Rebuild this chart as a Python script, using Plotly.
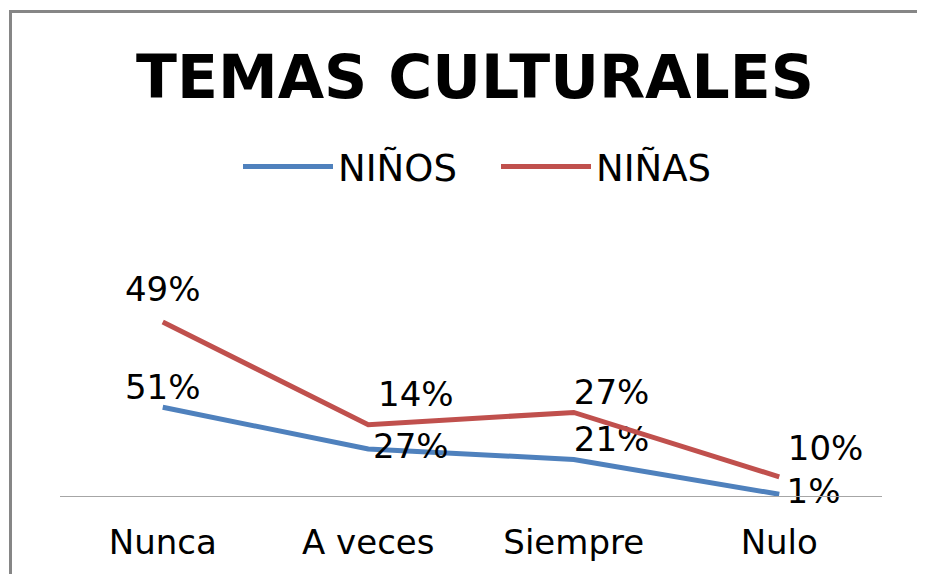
import plotly.graph_objects as go

categories = ["Nunca", "A veces", "Siempre", "Nulo"]
ninos = [51, 27, 21, 1]
ninas = [49, 14, 27, 10]
series_names = ["NIÑOS", "NIÑAS"]
colors = ["#4F81BD", "#C0504D"]

FONT = "DejaVu Sans"
OFF = 8  # page body margin offset

W, H = 925, 574
plot_l, plot_r = 60 - OFF, 882 - OFF
plot_t, plot_b = 230 - OFF, 496 - OFF
pw = plot_r - plot_l
ph = plot_b - plot_t
CLEAR = "rgba(0,0,0,0)"

fig = go.Figure()
fig.add_trace(go.Scatter(
    x=categories, y=ninos, name=series_names[0], stackgroup="s", fill="none",
    mode="lines+markers+text", line=dict(color=colors[0], width=5),
    marker=dict(size=[0, 6, 0, 10], opacity=0, color=CLEAR, line=dict(width=0)),
    text=[f"{v}%" for v in ninos], cliponaxis=False,
    textposition=["top center", "middle right", "top right", "middle right"],
    textfont=dict(family=FONT, size=34, color="#000000"),
))
fig.add_trace(go.Scatter(
    x=categories, y=ninas, name=series_names[1], stackgroup="s", fill="none",
    mode="lines+markers+text", line=dict(color=colors[1], width=5),
    marker=dict(size=[18, 14, 0, 12], opacity=0, color=CLEAR, line=dict(width=0)),
    text=[f"{v}%" for v in ninas], cliponaxis=False,
    textposition=["top center", "top right", "top right", "top right"],
    textfont=dict(family=FONT, size=34, color="#000000"),
))

fig.update_layout(
    width=W, height=H,
    paper_bgcolor="white", plot_bgcolor="white",
    margin=dict(l=plot_l, r=W - plot_r, t=plot_t, b=H - plot_b),
    title=dict(text="<b>TEMAS CULTURALES</b>", font=dict(family=FONT, size=60, color="#000000"),
               x=(475 - OFF) / W, xanchor="center", y=1 - (77 - OFF) / H, yanchor="middle",
               yref="container"),
    legend=dict(orientation="h", x=(238 - OFF) / W, xanchor="left",
                y=1 - (167 - OFF) / H, yanchor="middle",
                xref="container", yref="container",
                font=dict(family=FONT, size=37, color="#000000"),
                itemwidth=90, entrywidth=153, entrywidthmode="pixels"),
    showlegend=True,
    xaxis=dict(showline=True, linecolor="#A6A6A6", linewidth=1, showgrid=False, ticks="",
               tickfont=dict(family=FONT, size=34, color="#000000"), ticklabelstandoff=16,
               range=[-0.5, 3.5], zeroline=False),
    yaxis=dict(range=[0, ph / 1.74], visible=False, showgrid=False, zeroline=False),
    shapes=[dict(type="rect", xref="paper", yref="paper",
                 x0=(10.5 - 60) / pw, x1=(960 - 60) / pw, y0=-0.5, y1=(496 - 11.5) / ph,
                 line=dict(color="#868686", width=3))],
)

fig.write_html("out.html")
